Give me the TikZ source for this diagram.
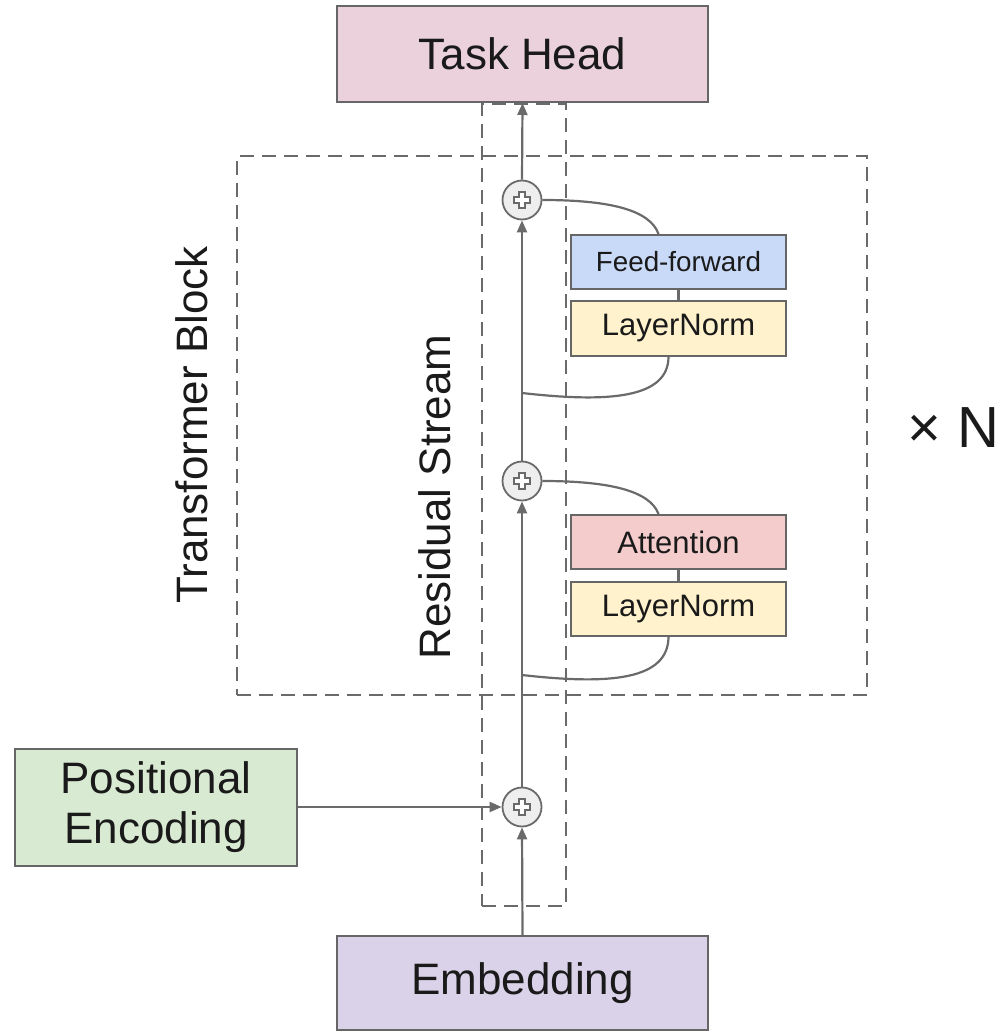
\documentclass[tikz,border=0pt]{standalone}
\usepackage{fontspec}
\setmainfont{Liberation Sans}
\usetikzlibrary{arrows.meta}
\definecolor{linegray}{HTML}{6A6A6A}
\definecolor{edgegray}{HTML}{666666}
\definecolor{headfill}{HTML}{EAD1DC}
\definecolor{embfill}{HTML}{D9D2E9}
\definecolor{posfill}{HTML}{D9EAD3}
\definecolor{fffill}{HTML}{C9DAF8}
\definecolor{lnfill}{HTML}{FFF2CC}
\definecolor{attfill}{HTML}{F4CCCC}
\definecolor{sumfill}{HTML}{EEEEEE}
\definecolor{ink}{HTML}{1A1A1A}
\begin{document}
\begin{tikzpicture}[x=0.5pt,y=-0.5pt,
  bigbox/.style={draw=edgegray, line width=1pt, inner sep=0pt, text=ink,
    font=\fontsize{22}{25}\selectfont, align=center},
  layerbox/.style={draw=edgegray, line width=1pt, inner sep=0pt, text=ink,
    minimum width=107.5pt, font=\fontsize{15.5}{18}\selectfont},
  sumnode/.style={circle, draw=linegray, fill=sumfill, line width=0.9pt,
    minimum size=19.5pt, inner sep=0pt},
  region/.style={draw=linegray, line width=1pt, dash pattern=on 7pt off 4pt, inner sep=0pt},
  conn/.style={draw=linegray, line width=1.1pt},
  arr/.style={conn, -{Triangle[length=6pt,width=5pt]}},
  biglabel/.style={text=ink, font=\fontsize{22}{25}\selectfont, inner sep=0pt}
]
\useasboundingbox (0,0) rectangle (1004,1032);

% dashed regions
\node[region, minimum width=315pt, minimum height=269.5pt] (block) at (552,425.5) {};
\node[region, minimum width=42pt, minimum height=401pt] (stream) at (523.5,505) {};

% main boxes
\node[bigbox, fill=headfill, minimum width=185.5pt, minimum height=48pt] (head) at (522.5,54) {Task Head};
\node[bigbox, fill=embfill, minimum width=185.5pt, minimum height=47pt] (emb) at (522.5,983) {Embedding};
\node[bigbox, fill=posfill, minimum width=141pt, minimum height=58.5pt] (pos) at (156,807) {Positional\\Encoding};

% sublayers
\node[layerbox, fill=fffill, minimum height=27pt, font=\fontsize{13.9}{16}\selectfont] (ff) at (678.5,262) {Feed-forward};
\node[layerbox, fill=lnfill, minimum height=27.5pt] (ln1) at (678.5,328.5) {LayerNorm};
\node[layerbox, fill=attfill, minimum height=27pt] (att) at (678.5,542) {Attention};
\node[layerbox, fill=lnfill, minimum height=27pt] (ln2) at (678.5,609) {LayerNorm};

% sums on the residual stream
\node[sumnode] (s1) at (522,200) {};
\node[sumnode] (s2) at (522,481) {};
\node[sumnode] (s3) at (522,807) {};
\foreach \s in {s1,s2,s3}{
  \draw[linegray, line width=0.8pt, fill=white, shift={(\s)}]
    (-3,-8)--(3,-8)--(3,-3)--(8,-3)--(8,3)--(3,3)--(3,8)
    --(-3,8)--(-3,3)--(-8,3)--(-8,-3)--(-3,-3)--cycle;
}

% labels
\node[biglabel, rotate=90] (tblabel) at (192,425) {Transformer Block};
\node[biglabel, rotate=90] (rslabel) at (435,497) {Residual Stream};
\node[text=ink, font=\fontsize{29}{32}\selectfont, inner sep=0pt] (times) at (953,428) {× N};

% residual stream
\draw[arr] (emb.north) -- (s3.south);
\draw[arr] (s3.north) -- (s2.south);
\draw[arr] (s2.north) -- (s1.south);
\draw[arr] (s1.north) -- (head.south);
\draw[arr] (pos.east) -- (s3.west);

% sublayer chains
\draw[conn] (ff.south) -- (ln1.north);
\draw[conn] (att.south) -- (ln2.north);

\coordinate (tap1) at (522,393);
\coordinate (tap2) at (522,675);
\draw[conn] (tap1) .. controls (610,403) and (668,398) .. ([xshift=-5pt]ln1.south);
\draw[conn] (tap2) .. controls (610,685) and (668,680) .. ([xshift=-5pt]ln2.south);
\draw[conn] (s1.east) .. controls (610,200) and (650,210) .. ([xshift=-10pt]ff.north);
\draw[conn] (s2.east) .. controls (610,481) and (650,491) .. ([xshift=-10pt]att.north);
\end{tikzpicture}
\end{document}
